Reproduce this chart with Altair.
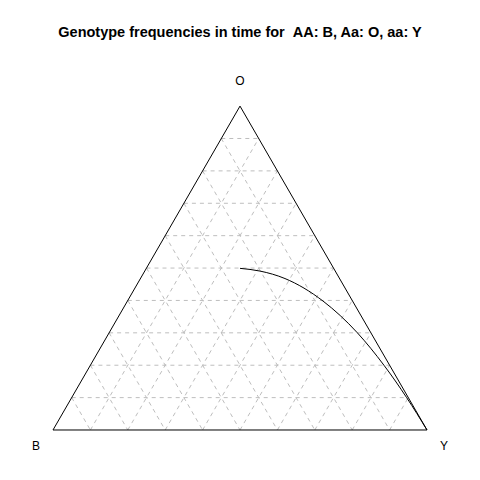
import altair as alt
import pandas as pd
import numpy as np

title_text = "Genotype frequencies in time for\u00a0\u00a0AA: B, Aa: O, aa: Y"

# vertex labels (B bottom-left, O top, Y bottom-right)
vertex_names = ["B", "O", "Y"]
vertex_B = [1.0, 0.0, 0.0]
vertex_O = [0.0, 1.0, 0.0]
vertex_Y = [0.0, 0.0, 1.0]

# grid levels
grid_levels = [0.1, 0.2, 0.3, 0.4, 0.5, 0.6, 0.7, 0.8, 0.9]

# trajectory: genotype frequencies O (Aa) and Y (aa)
curve_O = [0.4991, 0.4907, 0.4676, 0.3981, 0.3003, 0.1997, 0.0997, 0.0]
curve_Y = [0.2505, 0.3081, 0.3865, 0.5229, 0.6635, 0.7852, 0.8959, 1.0]
curve_B = [max(0.0, 1 - o - y) for o, y in zip(curve_O, curve_Y)]

S3 = np.sqrt(3) / 2


def cart(B, O, Y):
    return Y + O / 2, O * S3


# grid segments
rows = []
for t in grid_levels:
    segs = [
        ((1 - t, t, 0), (0, t, 1 - t)),
        ((t, 1 - t, 0), (t, 0, 1 - t)),
        ((1 - t, 0, t), (0, 1 - t, t)),
    ]
    for a, b in segs:
        x1, y1 = cart(*a)
        x2, y2 = cart(*b)
        rows.append(dict(x=x1, y=y1, x2=x2, y2=y2))
grid_df = pd.DataFrame(rows)

# triangle edges
verts = [cart(b, o, y) for b, o, y in zip(vertex_B, vertex_O, vertex_Y)]
edge_rows = []
for i in range(3):
    a = verts[i]
    b = verts[(i + 1) % 3]
    edge_rows.append(dict(x=a[0], y=a[1], x2=b[0], y2=b[1]))
edge_df = pd.DataFrame(edge_rows)

# labels
lab_df = pd.DataFrame({
    "name": vertex_names,
    "x": [v[0] for v in verts],
    "y": [v[1] for v in verts],
})

# curve
cx, cy = cart(np.array(curve_B), np.array(curve_O), np.array(curve_Y))
curve_df = pd.DataFrame({"x": cx, "y": cy, "i": range(len(cx))})

W, H = 464, 424
xs = alt.Scale(domain=[-0.1203, 1.1203], nice=False, zero=False)
ys = alt.Scale(domain=[-0.1123, 1.02139], nice=False, zero=False)

grid = alt.Chart(grid_df).mark_rule(color="#BEBEBE", strokeWidth=1, strokeDash=[4, 4]).encode(
    x=alt.X("x:Q", scale=xs, axis=None),
    y=alt.Y("y:Q", scale=ys, axis=None),
    x2="x2:Q",
    y2="y2:Q",
)

edges = alt.Chart(edge_df).mark_rule(color="black", strokeWidth=1).encode(
    x=alt.X("x:Q", scale=xs, axis=None),
    y=alt.Y("y:Q", scale=ys, axis=None),
    x2="x2:Q",
    y2="y2:Q",
)

curve = alt.Chart(curve_df).mark_line(color="black", strokeWidth=1, interpolate="monotone").encode(
    x=alt.X("x:Q", scale=xs, axis=None),
    y=alt.Y("y:Q", scale=ys, axis=None),
    order="i:Q",
)

def label(name, dx, dy):
    return alt.Chart(lab_df[lab_df["name"] == name]).mark_text(
        font="Liberation Sans", fontSize=12, color="black", dx=dx, dy=dy,
        align="center", baseline="middle",
    ).encode(
        x=alt.X("x:Q", scale=xs, axis=None),
        y=alt.Y("y:Q", scale=ys, axis=None),
        text="name:N",
    )

labels = label("O", 0, -25) + label("B", -17, 16) + label("Y", 17, 16)

chart = alt.layer(grid, edges, curve, labels).properties(
    width=W,
    height=H,
    autosize=alt.AutoSizeParams(type="none"),
    padding={"left": 0, "top": 40, "right": 0, "bottom": 0},
    title=alt.TitleParams(
        text=title_text, font="Liberation Sans", fontSize=14.5, fontWeight="bold",
        anchor="middle", offset=8, color="black",
    ),
).configure_view(stroke=None)

chart.save("out.html", embed_options={"renderer": "svg", "actions": False})
